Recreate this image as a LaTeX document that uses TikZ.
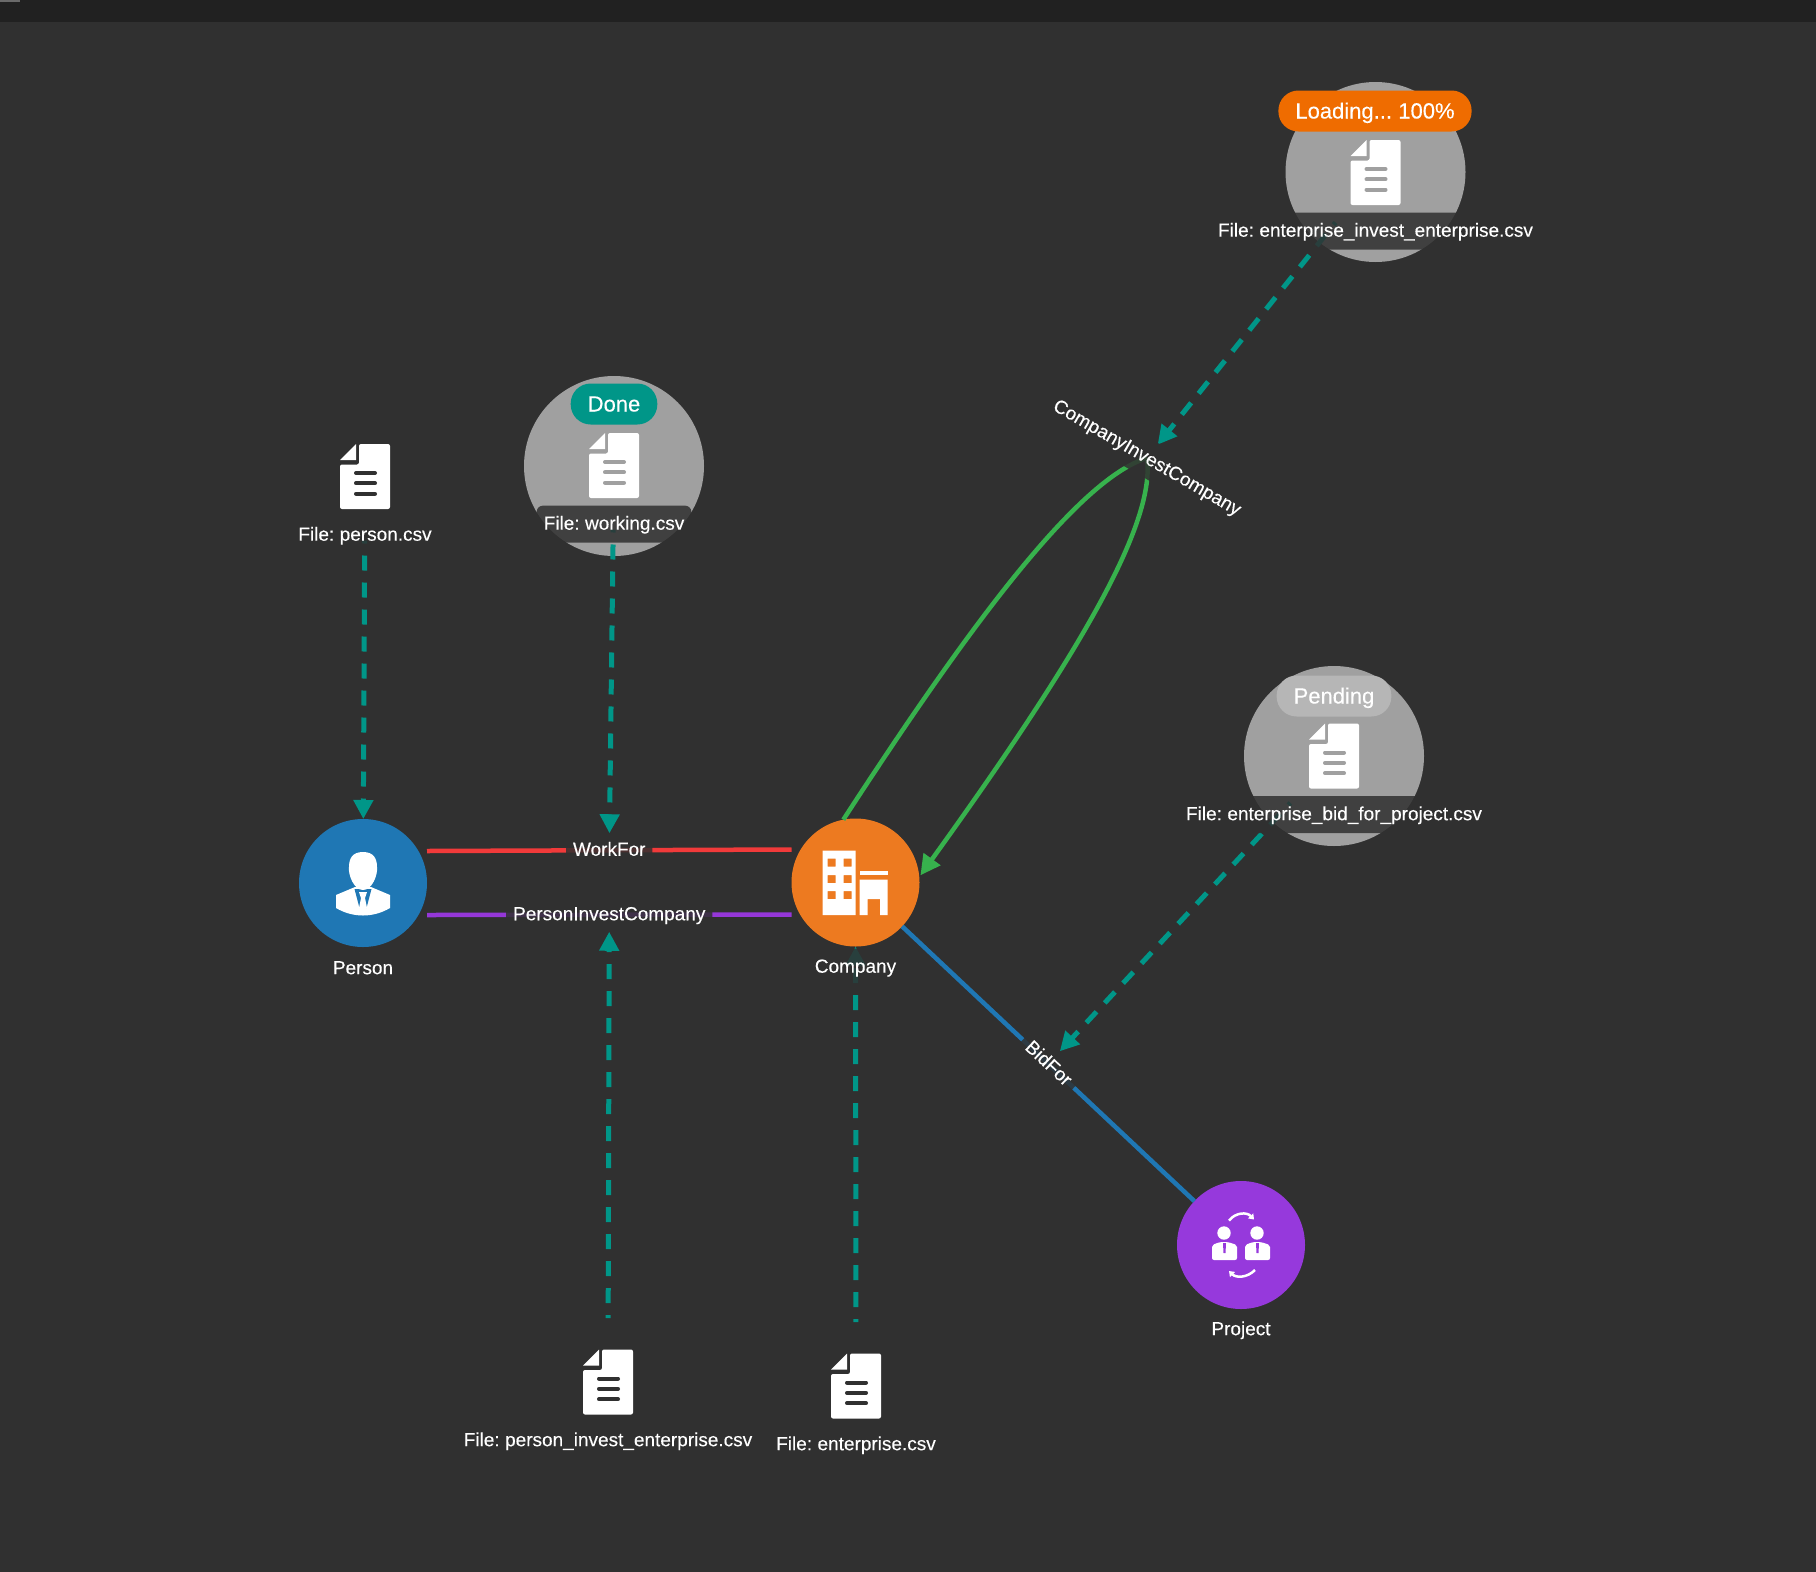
\documentclass[tikz,border=0pt]{standalone}
\usepackage{fontspec}
\setmainfont{Liberation Sans}[WordSpace=0.7, FakeBold=0.2]
\usepackage{tikz}
\usetikzlibrary{arrows.meta, positioning, shapes, calc}

\definecolor{canvasbg}{HTML}{303030}
\definecolor{topbar}{HTML}{212121}
\definecolor{cornerpatch}{HTML}{6A6A6A}
\definecolor{halogray}{HTML}{A0A0A0}
\definecolor{personblue}{HTML}{1F77B4}
\definecolor{companyorange}{HTML}{ED7A20}
\definecolor{projectpurple}{HTML}{9639DC}
\definecolor{flowteal}{HTML}{009688}
\definecolor{workred}{HTML}{F13A3A}
\definecolor{investpurple}{HTML}{9537D8}
\definecolor{investgreen}{HTML}{37B24D}
\definecolor{loadingorange}{HTML}{EF6C00}
\definecolor{pendinggray}{HTML}{B6B6B6}

\tikzset{
    entity/.style={circle, minimum size=128pt, inner sep=0pt, outer sep=0pt},
    filenode/.style={circle, minimum size=128pt, inner sep=0pt, outer sep=0pt},
    filehalo/.style={circle, fill=halogray, minimum size=180pt, inner sep=0pt},
    namelabel/.style={fill=canvasbg, fill opacity=.85, text opacity=1, text=white, rounded corners=6pt,
        inner xsep=7pt, inner ysep=0pt, minimum height=37pt, text height=11pt, text depth=0pt,
        font=\fontsize{19}{22}\selectfont},
    statuspill/.style={text=white, rounded corners=20pt, minimum height=41pt, inner xsep=17pt, inner ysep=0pt,
        text height=15pt, text depth=0pt, font=\fontsize{22}{27}\selectfont},
    relation/.style={line width=4.5pt},
    dataflow/.style={draw=flowteal, line width=5pt, dash pattern=on 15pt off 12pt, dash phase=12pt,
        -{Triangle[length=19pt, width=19pt, fill=flowteal]}},
    docicon/.pic={
        \fill[white] (-25,-16.5) -- (-9,-32.5) -- (-9,-16.5) -- cycle;
        \fill[white, rounded corners=2pt] (-6,-32.5) -- (25,-32.5) -- (25,32.5) -- (-25,32.5) -- (-25,-12) -- (-6,-12) -- cycle;
        \draw[#1, line width=4pt, line cap=round] (-9,-3.5) -- (10,-3.5) (-9,6.8) -- (10,6.8) (-9,17.2) -- (10,17.2);
    },
    personicon/.pic={
        \fill[white] (-27,12) -- (-27,25) .. controls (-10,35) and (10,35) .. (27,25) -- (27,12) -- (8,4) -- (-8,4) -- cycle;
        \fill[personblue] (-8.5,6) -- (-3.5,25) -- (3.5,25) -- (8.5,6) -- cycle;
        \fill[white] (-4,9) -- (4,9) -- (2,15) -- (4,25) -- (0,30) -- (-4,25) -- (-2,15) -- cycle;
        \fill[white] (0,-31) .. controls (11,-31) and (14,-24) .. (14,-16) .. controls (15,-8) and (9,7) .. (0,7)
            .. controls (-9,7) and (-15,-8) .. (-14,-16) .. controls (-14,-24) and (-11,-31) .. (0,-31);
    },
    companyicon/.pic={
        \fill[white, even odd rule] (-33,-32) rectangle (0,32.5)
            (-28,-24) rectangle (-20,-16) (-12,-24) rectangle (-4,-16)
            (-28,-7.5) rectangle (-20,0.5) (-12,-7.5) rectangle (-4,0.5)
            (-28,8.5) rectangle (-20,16.5) (-12,8.5) rectangle (-4,16.5);
        \fill[white] (4,-11.5) rectangle (32,-7.5);
        \fill[white] (4,-3) -- (32,-3) -- (32,32.5) -- (24.5,32.5) -- (24.5,16.5) -- (12,16.5) -- (12,32.5) -- (4,32.5) -- cycle;
    },
    projecticon/.pic={
        \fill[white] (-17,-12) circle (6.7pt) (16,-12) circle (6.7pt);
        \fill[white, rounded corners=2pt] (-29,0) -- (-21,-3) -- (-13,-3) -- (-4,0) -- (-4,15) -- (-29,15) -- cycle;
        \fill[white, rounded corners=2pt] (4,0) -- (12,-3) -- (20,-3) -- (29,0) -- (29,15) -- (4,15) -- cycle;
        \fill[projectpurple] (-18,-2) -- (-15,-2) -- (-15.5,8) -- (-17.5,8) -- cycle;
        \fill[projectpurple] (15,-2) -- (18,-2) -- (17.5,8) -- (15.5,8) -- cycle;
        \draw[white, line width=2.5pt, -{Triangle[length=5pt, width=7pt]}] (-12,-24.5) .. controls (-5,-33) and (6,-33) .. (13,-25.5);
        \draw[white, line width=2.5pt, -{Triangle[length=5pt, width=7pt]}] (14,25) .. controls (6,33) and (-5,33) .. (-12,26);
    }
}

\begin{document}
\begin{tikzpicture}[x=1pt, y=-1pt]
    \useasboundingbox (0,0) rectangle (1816,1572);
    \fill[canvasbg] (0,0) rectangle (1816,1572);
    \fill[topbar] (0,0) rectangle (1816,22);
    \fill[cornerpatch] (0,0) rectangle (20,2);

    \node (person) [entity, fill=personblue] at (363,883) {};
    \node (company) [entity, fill=companyorange] at (855.5,882.5) {};
    \node (project) [entity, fill=projectpurple] at (1241,1245) {};

    \node (investhalo) [filehalo] at (1375.5,172) {};
    \node (workinghalo) [filehalo] at (614,466) {};
    \node (bidhalo) [filehalo] at (1334,756) {};

    \node (personfile) [filenode] at (365,476.5) {};
    \node (workingfile) [filenode] at (614,465.5) {};
    \node (investfile) [filenode] at (1375.5,172.5) {};
    \node (bidfile) [filenode] at (1334,756) {};
    \node (personinvestfile) [filenode] at (608,1382) {};
    \node (enterprisefile) [filenode] at (856,1386) {};
    \coordinate (companyinvest) at (1147,458);

    \pic at (person) {personicon};
    \pic at (company) {companyicon};
    \pic at (project) {projecticon};
    \pic at (personfile) {docicon=canvasbg};
    \pic at (workingfile) {docicon=halogray};
    \pic at (investfile) {docicon=halogray};
    \pic at (bidfile) {docicon=halogray};
    \pic at (personinvestfile) {docicon=canvasbg};
    \pic at (enterprisefile) {docicon=canvasbg};

    \draw[relation, workred] ([yshift=32pt]person.east) -- node (workfor) [midway, namelabel] {WorkFor} ([yshift=33pt]company.west);
    \draw[relation, investpurple] ([yshift=-32pt]person.east) -- node (personinvest) [midway, namelabel] {PersonInvestCompany} ([yshift=-32pt]company.west);
    \draw[relation, personblue] (company) -- node (bidfor) [midway, sloped, namelabel] {BidFor} (project);

    \draw[relation, investgreen] (company.101) .. controls (960,640) and (1075,480) .. (companyinvest);
    \draw[relation, investgreen, -{Triangle[length=20pt, width=20pt]}, shorten >=2pt] (companyinvest) .. controls (1155,520) and (1090,640) .. (company.5);

    \draw[dataflow] (personfile) -- (person);
    \draw[dataflow, shorten >=17pt] (workingfile) -- (workfor.center);
    \draw[dataflow, shorten >=17pt] (personinvestfile) -- (personinvest.center);
    \draw[dataflow] (enterprisefile) -- (company);
    \draw[dataflow, shorten >=17pt] (investfile) -- (companyinvest);
    \draw[dataflow, shorten >=17pt] (bidfile) -- (bidfor.center);

    \node (companyinvestname) [namelabel, rotate=-30] at (companyinvest) {CompanyInvestCompany};
    \node (personname) [namelabel, below=3pt of person] {Person};
    \node (companyname) [namelabel, below=2pt of company] {Company};
    \node (projectname) [namelabel, below=2pt of project] {Project};

    \node (personfilename) [namelabel, below=-24pt of personfile] {File: person.csv};
    \node (workingfilename) [namelabel, below=-24pt of workingfile] {File: working.csv};
    \node (investfilename) [namelabel, below=-24pt of investfile] {File: enterprise\_invest\_enterprise.csv};
    \node (bidfilename) [namelabel, below=-24pt of bidfile] {File: enterprise\_bid\_for\_project.csv};
    \node (personinvestfilename) [namelabel, below=-24pt of personinvestfile] {File: person\_invest\_enterprise.csv};
    \node (enterprisefilename) [namelabel, below=-24pt of enterprisefile] {File: enterprise.csv};

    \node (loadingpill) [statuspill, fill=loadingorange] at (1375,111) {Loading... 100\%};
    \node (donepill) [statuspill, fill=flowteal] at (614,404) {Done};
    \node (pendingpill) [statuspill, fill=pendinggray] at (1334,696) {Pending};
\end{tikzpicture}
\end{document}
